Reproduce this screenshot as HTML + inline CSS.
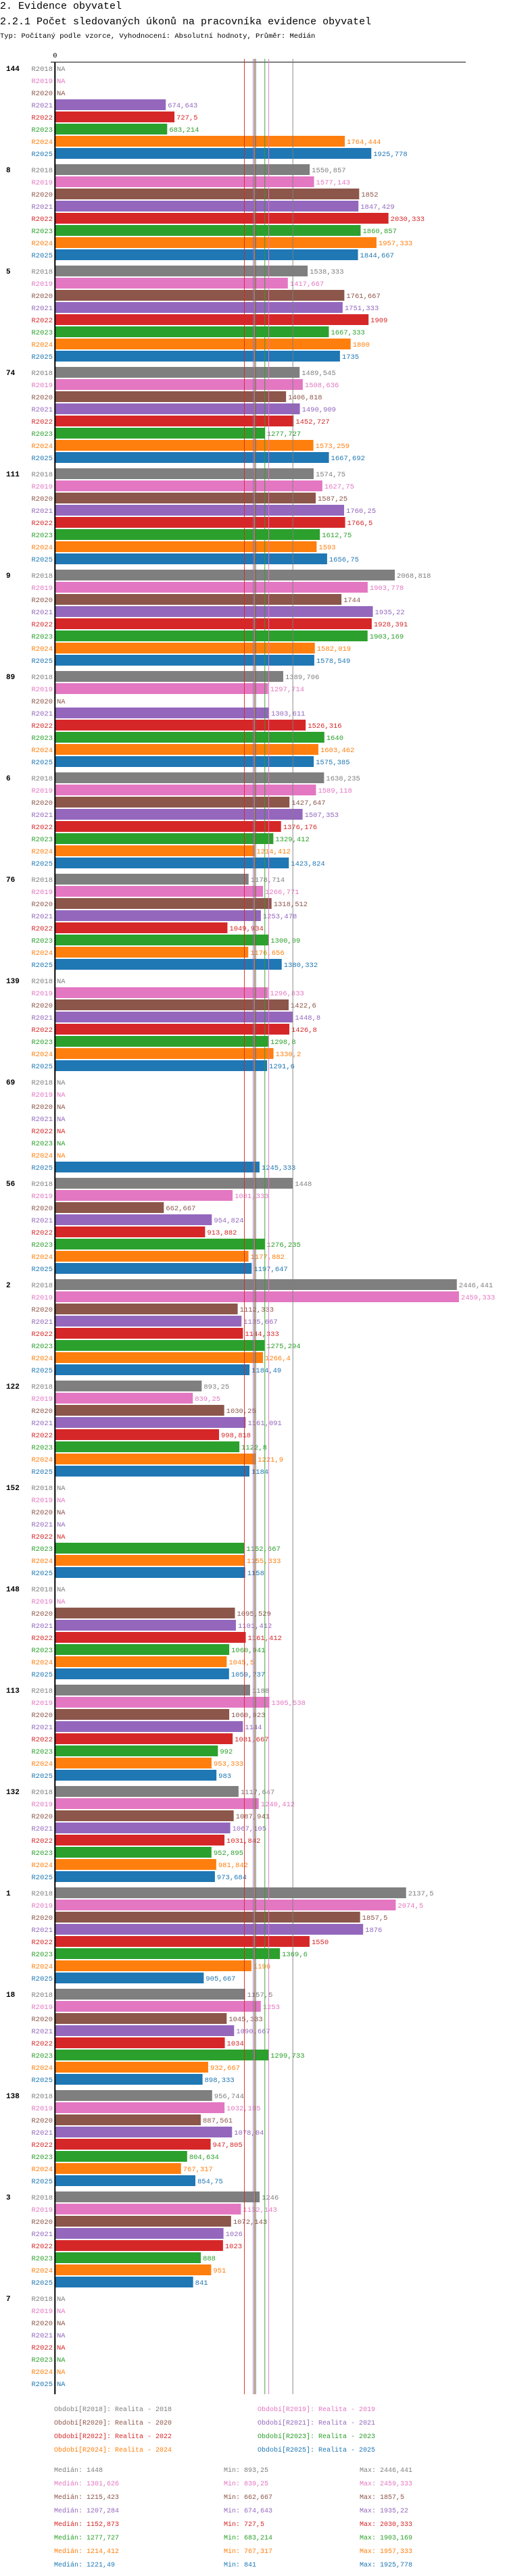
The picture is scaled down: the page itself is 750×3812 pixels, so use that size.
<!DOCTYPE html>
<html><head><meta charset="utf-8">
<style>
html,body{margin:0;padding:0;background:#fff;}
svg{display:block;font-family:"Liberation Mono",monospace;}
</style></head>
<body>
<svg id="chart" width="750" height="3812" viewBox="0 0 750 3812" xmlns="http://www.w3.org/2000/svg">
<text x="0" y="13" font-size="15" fill="#000">2. Evidence obyvatel</text>
<text x="0" y="36" font-size="15" fill="#000">2.2.1 Počet sledovaných úkonů na pracovníka evidence obyvatel</text>
<text x="0" y="56" font-size="10.5" fill="#000">Typ: Počítaný podle vzorce, Vyhodnocení: Absolutní hodnoty, Průměr: Medián</text>
<g id="plot"></g>
</svg>
<script>
const categories = ["144","8","5","74","111","9","89","6","76","139","69","56","2","122","152","148","113","132","1","18","138","3","7"];
const seriesNames = ["R2018","R2019","R2020","R2021","R2022","R2023","R2024","R2025"];
const seriesColors = ["#7f7f7f","#e377c2","#8c564b","#9467bd","#d62728","#2ca02c","#ff7f0e","#1f77b4"];
const s2018 = [null,1550.857,1538.333,1489.545,1574.75,2068.818,1389.706,1638.235,1178.714,null,null,1448,2446.441,893.25,null,null,1188,1117.647,2137.5,1157.5,956.744,1246,null];
const s2019 = [null,1577.143,1417.667,1508.636,1627.75,1903.778,1297.714,1589.118,1266.771,1296.833,null,1081.333,2459.333,839.25,null,null,1305.538,1240.412,2074.5,1253,1032.195,1132.143,null];
const s2020 = [null,1852,1761.667,1406.818,1587.25,1744,null,1427.647,1318.512,1422.6,null,662.667,1112.333,1030.25,null,1095.529,1060.923,1087.941,1857.5,1045.333,887.561,1072.143,null];
const s2021 = [674.643,1847.429,1751.333,1490.909,1760.25,1935.22,1303.611,1507.353,1253.478,1448.8,null,954.824,1135.667,1161.091,null,1101.412,1144,1067.105,1876,1090.667,1078.04,1026,null];
const s2022 = [727.5,2030.333,1909,1452.727,1766.5,1928.391,1526.316,1376.176,1049.934,1426.8,null,913.882,1144.333,998.818,null,1161.412,1081.667,1031.842,1550,1034,947.805,1023,null];
const s2023 = [683.214,1860.857,1667.333,1277.727,1612.75,1903.169,1640,1329.412,1300.09,1298.8,null,1276.235,1275.294,1122.8,1152.667,1060.941,992,952.895,1369.6,1299.733,804.634,888,null];
const s2024 = [1764.444,1957.333,1800,1573.259,1593,1582.019,1603.462,1214.412,1176.656,1330.2,null,1177.882,1266.4,1221.9,1155.333,1045.5,953.333,981.842,1196,932.667,767.317,951,null];
const s2025 = [1925.778,1844.667,1735,1667.692,1656.75,1578.549,1575.385,1423.824,1380.332,1291.6,1245.333,1197.647,1184.49,1184,1158,1059.737,983,973.684,905.667,898.333,854.75,841,null];
const medians = [1448,1301.626,1215.423,1207.284,1152.873,1277.727,1214.412,1221.49];
const mins = ["893,25","839,25","662,667","674,643","727,5","683,214","767,317","841"];
const maxs = ["2446,441","2459,333","1857,5","1935,22","2030,333","1903,169","1957,333","1925,778"];
const medianLabels = ["1448","1301,626","1215,423","1207,284","1152,873","1277,727","1214,412","1221,49"];
const legendLabels = ["Období[R2018]: Realita - 2018","Období[R2019]: Realita - 2019","Období[R2020]: Realita - 2020","Období[R2021]: Realita - 2021","Období[R2022]: Realita - 2022","Období[R2023]: Realita - 2023","Období[R2024]: Realita - 2024","Období[R2025]: Realita - 2025"];
const series = [s2018,s2019,s2020,s2021,s2022,s2023,s2024,s2025];

const NS="http://www.w3.org/2000/svg";
const plot=document.getElementById('plot');
const X0=81.3, K=0.243;
const xScale=v=>X0+v*K;
const rowY=(g,s)=>101+g*150+s*18;
function mk(tag,attrs){const e=document.createElementNS(NS,tag);for(const k in attrs)e.setAttribute(k,attrs[k]);plot.appendChild(e);return e;}
const fmt=v=>String(v).replace('.',',');

let e=mk('line',{x1:75,y1:92,x2:689,y2:92,stroke:'#000','stroke-width':1});


e=mk('text',{x:X0-3,y:85,'font-size':10.5,fill:'#000'});e.textContent='0';



categories.forEach((c,g)=>{
  const gl=mk('text',{x:9,y:rowY(g,0)+4,'font-size':11,'font-weight':'bold',fill:'#000'});gl.textContent=c;
  
  
  series.forEach((arr,s)=>{
    const y=rowY(g,s), col=seriesColors[s], v=arr[g];
    const rl=mk('text',{x:78,y:y+4,'font-size':10.5,fill:col,'text-anchor':'end'});rl.textContent=seriesNames[s];
    
    
    if(v==null){
      const na=mk('text',{x:84,y:y+4,'font-size':10.5,fill:col});na.textContent='NA';
      
      
    } else {
      const b=mk('rect',{x:X0,y:y-8,width:xScale(v)-X0,height:16,fill:col});
      
      
      const t=mk('text',{x:xScale(v)+3,y:y+4,'font-size':10.5,fill:col});t.textContent=fmt(v);
      
      
    }
  });
});
medians.forEach((m,s)=>{
  const l=mk('line',{x1:xScale(m),y1:87,x2:xScale(m),y2:3543,stroke:seriesColors[s],'stroke-width':0.9});
  
  
});
e=mk('line',{x1:X0,y1:92,x2:X0,y2:3543,stroke:'#000','stroke-width':2});



legendLabels.forEach((t,i)=>{
  const le=mk('text',{x:i%2?381:80,y:3568+Math.floor(i/2)*20,'font-size':10,fill:seriesColors[i]});le.textContent=t;
  
  
});
seriesNames.forEach((n,i)=>{
  const y=3658+i*20;
  const a=mk('text',{x:80,y:y,'font-size':10,fill:seriesColors[i]});a.textContent='Medián: '+medianLabels[i];
  
  
  const b=mk('text',{x:331,y:y,'font-size':10,fill:seriesColors[i]});b.textContent='Min: '+mins[i];
  
  
  const c=mk('text',{x:532,y:y,'font-size':10,fill:seriesColors[i]});c.textContent='Max: '+maxs[i];
  
  
});
</script>
</body></html>
